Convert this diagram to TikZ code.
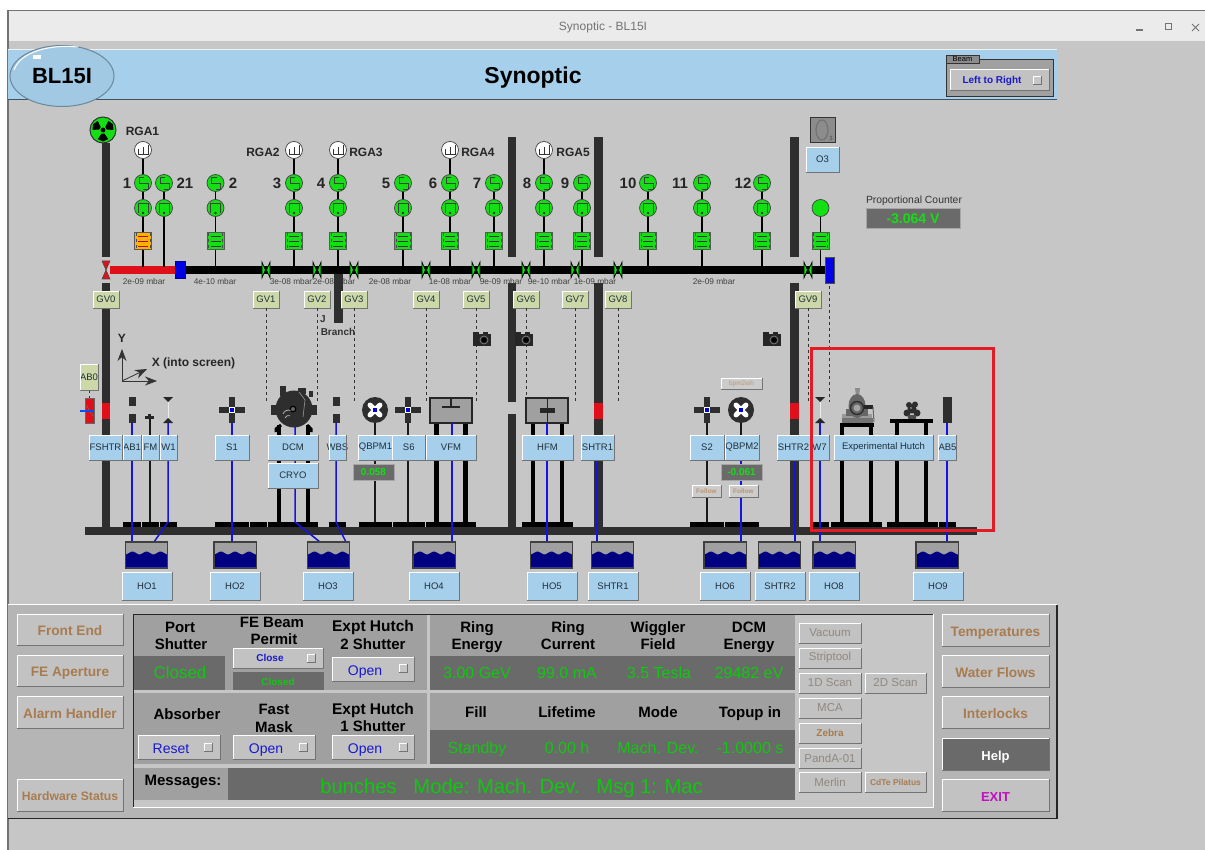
\documentclass[tikz,border=0pt]{standalone}
\usepackage{fontspec}
\setmainfont{Liberation Sans}
\usetikzlibrary{arrows.meta,calc,shapes.geometric}
\definecolor{bg}{HTML}{C6C6C6}
\definecolor{hdr}{HTML}{A6CFEB}
\definecolor{wall}{HTML}{2E2E2E}
\definecolor{gn}{HTML}{12E012}
\definecolor{gv}{HTML}{CCD8A8}
\definecolor{wl}{HTML}{1414E0}
\definecolor{cell}{HTML}{A0A0A0}
\definecolor{dk}{HTML}{6A6A6A}
\definecolor{val}{HTML}{10C810}
\definecolor{tan}{HTML}{A87C50}
\definecolor{btxt}{HTML}{1818D0}
\definecolor{rd}{HTML}{E0101A}
\definecolor{navy}{HTML}{000080}
\definecolor{org}{HTML}{FFB000}
\definecolor{ink}{HTML}{20303C}
\definecolor{fade}{HTML}{908880}
\definecolor{exitc}{HTML}{C010C0}
\newcommand{\fsz}[1]{\fontsize{#1}{#1}\selectfont}
\newcounter{tn}
\newcommand{\T}[4][]{\stepcounter{tn}\node[tx,#1] (t\arabic{tn}) at (#2,#3) {#4};}
\newcommand{\bevel}[1]{%
 \draw[white,line width=0.8pt] (#1.south west)--(#1.north west)--(#1.north east);
 \draw[black!55,line width=0.8pt] (#1.north east)--(#1.south east)--(#1.south west);}
\newcommand{\blab}[6]{%
 \node[blabel,minimum width={(#4-#2)*1pt},minimum height={(#5-#3)*1pt}] (#1) at ({(#2+#4)/2},{(#3+#5)/2}) {#6};
 \bevel{#1}}
\newcommand{\gvb}[3]{%
 \node[gvbox] (#1) at (#2,299.5) {#3};\bevel{#1}}
\newcommand{\btn}[7]{%
 \node[btnbox,minimum width={(#4-#2)*1pt},minimum height={(#5-#3)*1pt},#6] (#1) at ({(#2+#4)/2},{(#3+#5)/2}) {#7};
 \bevel{#1}}
\newcommand{\ind}[2]{%
 \fill[bg] (#1-4,#2-4) rectangle (#1+4,#2+4);
 \draw[white,line width=0.7pt] (#1-4,#2+4)--(#1-4,#2-4)--(#1+4,#2-4);
 \draw[black!55,line width=0.7pt] (#1+4,#2-4)--(#1+4,#2+4)--(#1-4,#2+4);}
\newcommand{\glyphS}[1]{\draw[gly] (#1+1,177)--(#1-4,177)--(#1-4,183)--(#1+5,183)--(#1+5,189)--(#1,189);}
\newcommand{\glyphP}[1]{\draw[gly] (#1-5,213)--(#1-5,203)--(#1+5,203)--(#1+5,213);\fill[black!80] (#1,213) circle (1.3);}
\newcommand{\glyphB}[1]{\foreach \v in {236,241,246}{\draw[black!80,line width=0.9pt] (#1-5,\v)--(#1+5,\v);}
 \draw[black!70,dashed,line width=0.6pt] (#1-7,233)--(#1-7,249) (#1+7,233)--(#1+7,249);}
\newcommand{\gstack}[3]{%
 \node[gc] (p#1) at (#2,183) {};\node[gc] (q#1) at (#2,208) {};\node[gb,fill=#3] (r#1) at (#2,241) {};
 \coordinate (b#1) at (#2,267);
 \draw[conn] (p#1)--(q#1);\draw[conn] (q#1)--(r#1);\draw[conn] (r#1)--(b#1);
 \glyphS{#2}\glyphP{#2}\glyphB{#2}}
\newcommand{\rga}[2]{%
 \node[rg] (g#1) at (#2,150) {};\draw[conn] (g#1)--(p#1);
 \draw[black!80,line width=0.7pt] (#2-5,149)--(#2-5,154)--(#2+5,154)--(#2+5,145) (#2,147)--(#2,154);}
\newcommand{\valve}[2]{%
 \coordinate (v#1) at (#2,270);
 \draw[black,fill=gn,line width=0.6pt] (#2-4,262)--(#2-0.6,270)--(#2-4,278)--cycle;
 \draw[black,fill=gn,line width=0.6pt] (#2+4,262)--(#2+0.6,270)--(#2+4,278)--cycle;}
\newcommand{\cam}[2]{%
 \fill[black!85] (#1-9,#2-5) rectangle (#1+9,#2+7);
 \fill[black!85] (#1-9,#2-7) rectangle (#1-3,#2-4);
 \fill[black!85] (#1+1,#2-7) rectangle (#1+6,#2-4);
 \draw[black!50,line width=0.7pt] (#1+2,#2+1) circle (4);
 \fill[black] (#1+2,#2+1) circle (2.6);}
\newcommand{\crossicon}[2]{%
 \fill[black!82] (#1-3.4,#2-13) rectangle (#1+3.4,#2+13);
 \fill[black!82] (#1-13,#2-3.2) rectangle (#1+13,#2+3.2);
 \fill[white] (#1-2.6,#2-2.6) rectangle (#1+2.6,#2+2.6);
 \fill[blue!85!black] (#1-1.7,#2-1.7) rectangle (#1+1.7,#2+1.7);}
\newcommand{\discicon}[2]{%
 \fill[black!82] (#1,#2) circle (13);
 \foreach \a in {45,135,225,315}{\draw[white,line width=5pt,line cap=round] (#1,#2)--++(\a:7);}
 \fill[blue!85!black] (#1-1.7,#2-1.7) rectangle (#1+1.7,#2+1.7);}
\newcommand{\widfil}[1]{%
 \fill[black!85] (#1-5,397)--(#1+5,397)--(#1,402)--cycle;
 \draw[black!8,line width=0.7pt] (#1,402)--(#1,419);
 \fill[black!85] (#1-5,423)--(#1+5,423)--(#1,418)--cycle;}
\newcommand{\slitpair}[1]{%
 \fill[black!82] (#1-3.5,397) rectangle (#1+3.5,406);
 \fill[black!82] (#1-3.5,414) rectangle (#1+3.5,423);}
\newcommand{\tank}[5]{%
 \node[tk] (#1) at (#2+21,555) {};
 \fill[navy] plot[domain=0:42,samples=43] ({#2+\x},{553+1.4*cos(\x*360/14)}) -- (#2+42,567.5) -- (#2,567.5) -- cycle;
 \draw[black!75,line width=1.4pt] (#1.north west) rectangle (#1.south east);
 \blab{#4}{#3}{572}{#3+50}{600}{#5}}
\tikzset{
 tx/.style={inner sep=0pt,outer sep=0pt,align=center},
 blabel/.style={fill=hdr,inner sep=0pt,outer sep=0pt,font=\fsz{9.5},text=ink},
 gvbox/.style={fill=gv,inner sep=0pt,outer sep=0pt,minimum width=26pt,minimum height=17pt,font=\fsz{9.5},text=ink},
 btnbox/.style={fill=black!24,inner sep=0pt,outer sep=0pt},
 gc/.style={circle,fill=gn,draw=black!75,line width=0.7pt,minimum size=17pt,inner sep=0pt},
 rg/.style={circle,fill=white,draw=black!75,line width=0.7pt,minimum size=17pt,inner sep=0pt},
 gb/.style={rectangle,draw=black!65,line width=0.8pt,minimum size=17pt,inner sep=0pt},
 tk/.style={rectangle,fill=cell,minimum width=42pt,minimum height=26pt,inner sep=0pt},
 conn/.style={black,line width=1.3pt},
 gly/.style={black!75,line width=0.7pt},
 wire/.style={wl,line width=1.5pt},
 dsh/.style={black!80,line width=0.7pt,dash pattern=on 3pt off 3pt},
 leg/.style={black,line width=4.4pt},
 thinleg/.style={black!90,line width=1.5pt},
 big/.style={font=\fsz{15}\bfseries,text=black,text height=11pt,text depth=0pt},
 gnum/.style={font=\fsz{15}\bfseries,text=black!85},
 rgat/.style={font=\fsz{12}\bfseries,text=black!85},
 pr/.style={font=\fsz{8.3},text=black!75},
 value/.style={font=\fsz{16},text=val,text height=11.5pt,text depth=0pt},
 tanb/.style={font=\fsz{13.7}\bfseries,text=tan,text height=12.5pt,text depth=0pt},
 smallb/.style={font=\fsz{11.5},text=fade},
 openb/.style={font=\fsz{14},text=btxt,text height=12pt,text depth=0pt},
}
\begin{document}
\begin{tikzpicture}[x=1pt,y=-1pt]
\useasboundingbox (0,0) rectangle (1205,850);
\fill[white] (0,0) rectangle (1205,850);
% window
\fill[bg] (8,11) rectangle (1205,850);
\fill[black!8] (8,11) rectangle (1205,41);
\draw[black!55,line width=1.2pt] (8,850)--(8,10.5)--(1205,10.5);
\T{603}{27}{\fsz{12}\color{black!55}Synoptic - BL15I}
\draw[black!55,line width=1.2pt] (1136,30)--(1143,30);
\draw[black!55,line width=1pt] (1165,24) rectangle (1171,30);
\draw[black!55,line width=1pt] (1192,24)--(1199,31) (1199,24)--(1192,31);
% header
\fill[hdr] (8,50) rectangle (1057,99);
\draw[black!6,line width=1pt] (8,50)--(1057,50);
\draw[black!60!hdr,line width=1.4pt] (8,99.5)--(1057,99.5);
\node[ellipse,fill=hdr!97!black,draw=black!35!hdr,line width=1pt,minimum width=104pt,minimum height=61pt,inner sep=0pt,font=\fsz{22}\bfseries,text height=16pt,text depth=0pt] (bl) at (62,76) {BL15I};
\draw[white,line width=1pt] (14,70) .. controls (20,52) and (50,44) .. (78,47);
\fill[white] (33,55) rectangle (41,59);
\T[font=\fsz{23}\bfseries]{533}{78}{Synoptic}
% beam box
\fill[cell] (946,59) rectangle (1053,96);
\draw[black!80,line width=0.8pt] (946,59) rectangle (1053,96);
\node[fill=black!45,draw=black!80,line width=0.7pt,minimum width=33pt,minimum height=8pt,inner sep=0pt,font=\fsz{7.5}] (beamtab) at (962.5,59) {Beam};
\btn{lr}{950}{69}{1049}{90}{font=\fsz{10}\bfseries,text=btxt,text depth=0pt}{\hspace*{-7.5pt}Left to Right\hspace*{7.5pt}}
\ind{1037}{80}
% beam line
\fill[black] (185,266) rectangle (826,274);
\fill[rd] (110,266) rectangle (176,274);
\fill[blue!90!black] (175.5,261) rectangle (185,278);
\draw[blue!60!black,line width=0.4pt] (175.5,261) rectangle (185,278);
\coordinate (v0) at (106,270);
\draw[black!70,fill=rd,line width=0.6pt] (102,261)--(110,261)--(106,270)--cycle;
\draw[black!70,fill=rd,line width=0.6pt] (102,279)--(110,279)--(106,270)--cycle;
\fill[blue!90!black] (825,257) rectangle (834,283);
\draw[black!70,line width=0.5pt] (825,257) rectangle (834,283);
% walls
\fill[wall] (102,143) rectangle (110,257);
\fill[wall] (102,283) rectangle (110,530);
\fill[rd] (102,403) rectangle (110,419);
\fill[wall] (507.5,137) rectangle (516,257);
\fill[wall] (507.5,283) rectangle (516,402);
\fill[wall] (507.5,414) rectangle (516,530);
\fill[wall] (594,137) rectangle (603,257);
\fill[wall] (594,283) rectangle (603,530);
\fill[rd] (594,403) rectangle (603,419);
\fill[wall] (790,137) rectangle (799,257);
\fill[wall] (790,283) rectangle (799,530);
\fill[rd] (790,403) rectangle (799,419);
\fill[wall] (334,274) rectangle (342.5,323);
% radiation symbol
\node[circle,fill=gn,draw=black!80,line width=1pt,minimum size=26pt,inner sep=0pt] (rad) at (103,130) {};
\begin{scope}[shift={(103,130)}]
\foreach \a in {90,210,330}{\fill[black] (\a-30:10.5)--(\a:11.5)--(\a+30:10.5)--(\a+22:3.8)--(\a-22:3.8)--cycle;}
\fill[black] (0,0) circle (2.4);
\end{scope}
% gauge stacks
\gstack{1}{143}{org}\gstack{2}{215.5}{gn}\gstack{3}{294}{gn}\gstack{4}{338}{gn}
\gstack{5}{403}{gn}\gstack{6}{450}{gn}\gstack{7}{494}{gn}\gstack{8}{544}{gn}\gstack{9}{582}{gn}
\gstack{10}{648}{gn}\gstack{11}{702}{gn}\gstack{12}{762}{gn}
\foreach \v in {236,241,246}{\draw[rd!80!black,line width=0.9pt] (138,\v)--(148,\v);}
\node[gc] (p21) at (164,183) {};\node[gc] (q21) at (164,208) {};\coordinate (b21) at (164,267);
\draw[conn] (p21)--(q21);\draw[conn] (q21)--(b21);\glyphS{164}\glyphP{164}
\node[gc] (qe) at (820.5,208) {};\node[gb,fill=gn] (re) at (820.5,241) {};\coordinate (be) at (820.5,267);
\draw[conn] (qe)--(re);\draw[conn] (re)--(be);\glyphB{820.5}
\rga{1}{143}\rga{3}{294}\rga{4}{338}\rga{6}{450}\rga{8}{544}
% gauge labels
\foreach \x/\s in {127/1,185/21,233/2,277/3,321/4,386/5,433/6,477/7,527/8,565/9,628/10,680/11,743/12}{\T[gnum]{\x}{183}{\s}}
\T[rgat]{142.5}{131}{RGA1}\T[rgat]{263}{152}{RGA2}\T[rgat]{366}{152}{RGA3}\T[rgat]{478}{152}{RGA4}\T[rgat]{573}{152}{RGA5}
% pressures
\foreach \x/\s in {144/2e-09,215/4e-10,291/3e-08,334/2e-08,390/2e-08,450/1e-08,501/9e-09,549/9e-10,595/1e-09,714/2e-09}{\T[pr]{\x}{282}{\s\ mbar}}
\fill[wall] (334,278) rectangle (342.5,286);
% dashed lines, then valves and labels
\foreach \n/\x in {1/266,2/317,3/354,4/426,5/476,6/526,7/575,8/618,9/808}{
 \valve{\n}{\x}
 \gvb{gv\n}{\x}{GV\n}
 \coordinate (d\n) at (\x,403);
 \draw[dsh] (gv\n.south)--(d\n);
}
\gvb{gv0}{106}{GV0}
\coordinate (ea) at (829.5,286);\coordinate (eb) at (829.5,402);\draw[dsh] (ea)--(eb);
\T[font=\fsz{10}\bfseries,text=black!80]{323}{319}{J}
\T[font=\fsz{10}\bfseries,text=black!80]{338}{332}{Branch}
% cameras
\cam{482}{339}\cam{524}{339}\cam{772}{339}
% O3
\node[fill=black!45,draw=black!80,line width=1pt,minimum size=25pt,inner sep=0pt] (o3i) at (823,130.5) {};
\draw[black!55,line width=1.2pt] (822,130) ellipse (6 and 10);
\T[font=\fsz{6},text=black!70]{831}{138}{3}
\blab{o3}{806}{147}{839}{172}{O3}
% proportional counter
\T[font=\fsz{10.4},text=black!80]{914}{200.5}{Proportional Counter}
\node[fill=dk,draw=black!35,line width=0.6pt,minimum width=94pt,minimum height=20pt,inner sep=0pt,font=\fsz{14}\bfseries,text=gn] (pc) at (913,218.5) {-3.064 V};
% axes
\coordinate (ax) at (122,381);\coordinate (axy) at (122,349);\coordinate (axx) at (157,381);\coordinate (axz) at (147,369);
\draw[black!80,line width=0.8pt,-{Stealth[length=12pt,width=9pt]}] (ax)--(axy);
\draw[black!80,line width=0.8pt,-{Stealth[length=12pt,width=9pt]}] (ax)--(axx);
\draw[black!80,line width=0.8pt,-{Stealth[length=12pt,width=9pt]}] (ax)--(axz);
\T[font=\fsz{12}\bfseries,text=black!85]{122}{338}{Y}
\T[font=\fsz{12}\bfseries,text=black!85]{193.5}{363}{X (into screen)}
% base
\fill[wall] (85,527) rectangle (977,535);
\foreach \a/\b in {123/141,142/159,160/177,215/249,250/267,268/318,329/346,359/392,392.5/425,426/476,522/573,690/724,725/759,813/829,831/882,887/938,939/956}{
 \fill[black] (\a,522) rectangle (\b,527);}
% legs
\foreach \x in {279,308}{\draw[leg] (\x,425)--(\x,522);}
\foreach \x in {436.5,465.5,533,562}{\draw[leg] (\x,423)--(\x,522);}
\foreach \x in {842,871,897,926}{\draw[black,line width=4pt] (\x,423)--(\x,522);}
\foreach \x in {150,375,408,707,741}{\draw[thinleg] (\x,417)--(\x,522);}
% icons
\slitpair{132}\slitpair{336}
\fill[black!85] (145,416) rectangle (154,419);\fill[black!85] (148,414) rectangle (151,416);
\widfil{168}\widfil{820}
\crossicon{232}{410}\crossicon{408}{410}\crossicon{707}{410}
\discicon{375}{410}\discicon{741}{410}
\fill[black!82] (943,397) rectangle (952,423);
% mirrors
\node[fill=cell,draw=black!85,line width=1.3pt,minimum width=42pt,minimum height=25pt,inner sep=0pt] (vfmi) at (451,410.5) {};
\fill[black!85] (442,406) rectangle (460,408);\fill[black!85] (450,399) rectangle (452,407);
\node[fill=cell,draw=black!85,line width=1.3pt,minimum width=42pt,minimum height=25pt,inner sep=0pt] (hfmi) at (547,410.5) {};
\draw[black!85,line width=0.9pt] (547,398)--(547,423);
\fill[black!85] (540,408) rectangle (555,413);
% DCM
\fill[black!82] (271,405) rectangle (277,415);\fill[black!82] (311,405) rectangle (317,415);
\fill[black!82] (280,386) rectangle (286,396);\fill[black!82] (298,388) rectangle (306,394);\fill[black!82] (309,391) rectangle (313,397);
\fill[black!82] (294,409) circle (18.5);
\draw[black,line width=3pt] (276,432)--(276,429)--(281,425);\draw[black,line width=3pt] (311,432)--(311,429)--(307,425);
\draw[black,line width=1.2pt,fill=black!60] (293,409) circle (2.8);
\draw[black!25,line width=0.7pt] (285,418) arc (200:290:4) (283,414) arc (200:290:6);
\draw[black!45,line width=0.7pt] (303,417)--(305,400)--(299,392);
% experimental hutch apparatus
\fill[black] (840,423) rectangle (874,427);
\fill[black] (890,419) rectangle (933,423);
\fill[black!55] (842,418) rectangle (873,423);
\fill[black!40] (842,414) rectangle (872,418);
\fill[black!60] (846,409) rectangle (868,416);
\fill[black!45] (855,388) -- (860,388) -- (859,396)--(863,400)--(852,400)--(856,396)--cycle;
\fill[black!60] (857,406) ellipse (8.5 and 12);
\draw[black!82,line width=1.4pt] (857,408) circle (6.5);
\fill[black!35] (857,408) circle (3.4);
\fill[black!85] (864,405) rectangle (873,409);
\draw[black!60,line width=1pt] (873,407)--(874,422);
\fill[black!82] (912,409) circle (4.5);\fill[black!82] (907,413) circle (3.5);\fill[black!82] (917,413) circle (3.5);
\fill[black!82] (909,405) circle (3);\fill[black!82] (915,404.5) circle (3);\fill[black!70] (908,415) rectangle (916,419);
\fill[black!45] (911,408) circle (1.2);
% FSHTR red, AB0
\fill[rd] (85,398) rectangle (94,423);\draw[black!60,line width=0.5pt] (85,398) rectangle (94,423);
\draw[black!55,line width=0.5pt] (86,405)--(93,416);
\draw[blue!70!cyan,line width=2pt] (80,411)--(94,411);
\draw[dsh] (89,390)--(89,398);
\node[blabel,fill=gv,minimum width=18pt,minimum height=26pt] (ab0) at (89,377) {AB0};\bevel{ab0}
% water wires
\foreach \n/\x/\t in {a/132/423,b/232/423,c/452/423,d/547/423,e/597/460,f/741/460,g/820/423,h/947/423}{
 \coordinate (wa\n) at (\x,\t);\coordinate (wb\n) at (\x,542);\draw[wire] (wa\n)--(wb\n);}
\coordinate (wi) at (795,460);\coordinate (wj) at (795,541);\draw[wire] (wi)--(wj);
\coordinate (wp) at (168,423);\coordinate (wq) at (168,522);\coordinate (wr) at (154,542);\draw[wire] (wp)--(wq)--(wr);
\coordinate (ws) at (295,427);\coordinate (wt) at (295,522);\coordinate (wu) at (320,542);\draw[wire] (ws)--(wt)--(wu);
\coordinate (wv) at (336,423);\coordinate (ww) at (336,522);\coordinate (wx) at (346,542);\draw[wire] (wv)--(ww)--(wx);
% tanks
\tank{ta}{125.5}{122}{HOa}{HO1}
\tank{tb}{214}{210}{HOb}{HO2}
\tank{tc}{307.5}{303}{HOc}{HO3}
\tank{td}{413}{409}{HOd}{HO4}
\tank{te}{530.5}{527}{HOe}{HO5}
\tank{tf}{591.5}{588}{HOf}{SHTR1}
\tank{tg}{704}{700}{HOg}{HO6}
\tank{th}{758.5}{755}{HOh}{SHTR2}
\tank{ti}{813}{809}{HOi}{HO8}
\tank{tj}{916}{913}{HOj}{HO9}
% device labels
\blab{fshtr}{89}{435}{122}{460}{FSHTR}
\blab{ab1}{123}{435}{141}{460}{AB1}
\blab{fm}{142}{435}{159}{460}{FM}
\blab{w1}{160}{435}{177}{460}{W1}
\blab{s1}{215}{435}{249}{460}{S1}
\blab{dcm}{268}{435}{318}{460}{DCM}
\blab{cryo}{268}{463}{318}{488}{CRYO}
\blab{wbs}{329}{435}{346}{460}{\makebox[0pt]{WBS}}
\blab{qbpm1}{359}{435}{392}{460}{QBPM1}
\blab{s6}{392.5}{435}{425}{460}{S6}
\blab{vfm}{426}{435}{476}{460}{VFM}
\blab{hfm}{522}{435}{573}{460}{HFM}
\blab{shtr1}{581}{435}{614}{460}{SHTR1}
\blab{s2}{690}{435}{724}{460}{S2}
\blab{qbpm2}{725}{435}{759}{460}{QBPM2}
\blab{shtr2}{777}{435}{810}{460}{SHTR2}
\blab{w7}{810}{435}{829}{460}{W7}
\blab{hutch}{834}{435}{933}{460}{Experimental Hutch}
\blab{ab5}{939}{435}{956}{460}{AB5}
% readouts
\node[fill=dk,draw=black!35,line width=0.5pt,minimum width=41pt,minimum height=16pt,inner sep=0pt,font=\fsz{10}\bfseries,text=gn] (q1v) at (373.5,472) {0.058};
\node[fill=dk,draw=black!35,line width=0.5pt,minimum width=41pt,minimum height=16pt,inner sep=0pt,font=\fsz{10}\bfseries,text=gn] (q2v) at (741.5,472) {-0.061};
\btn{bp}{721}{378}{762}{389}{fill=black!20,font=\fsz{6.5},text=tan!80}{bpm2eih}
\btn{fl1}{692}{485}{721}{497}{fill=black!20,font=\fsz{6.5}\bfseries,text=tan!80}{Follow}
\btn{fl2}{729}{485}{758}{497}{fill=black!20,font=\fsz{6.5}\bfseries,text=tan!80}{Follow}
% red frame
\draw[rd!95!white,line width=3pt] (811,348.5) rectangle (993.5,530);
% control panel
\fill[black!29] (8,605) rectangle (1057,818);
\draw[white,line width=1pt] (8,604.5)--(1057,604.5);
\draw[black!85,line width=1.4pt] (8,818.5)--(1057,818.5)--(1057,604.5);
\fill[bg] (133,614) rectangle (933,807);
\draw[white,line width=1pt] (133,807)--(933,807)--(933,614);
\fill[cell] (133,614) rectangle (427,690);
\fill[cell] (133,693) rectangle (427,764);
\fill[cell] (430,614) rectangle (795,690);
\fill[cell] (430,693) rectangle (795,764);
\fill[dk] (430,656) rectangle (795,690);
\fill[dk] (430,730) rectangle (795,764);
\fill[cell] (133,768) rectangle (228,800);
\fill[dk] (228,768) rectangle (795,800);
\fill[dk] (133,656) rectangle (225,690);
\fill[dk] (233,672) rectangle (324,690);
\draw[black!85,line width=1pt] (133,807)--(133,614)--(933,614);
% side buttons
\btn{fe}{17}{614}{123}{645}{tanb}{Front End}
\btn{fea}{17}{655}{123}{686}{tanb}{FE Aperture}
\btn{alm}{17}{696}{123}{728}{tanb}{Alarm Handler}
\btn{hw}{17}{779}{123}{811}{font=\fsz{12.2}\bfseries,text=tan,text height=11pt,text depth=0pt}{Hardware Status}
\btn{temp}{942}{614}{1049}{646}{tanb}{Temperatures}
\btn{wf}{942}{655}{1049}{687}{tanb}{Water Flows}
\btn{il}{942}{696}{1049}{728}{tanb}{Interlocks}
\btn{hlp}{942}{738}{1049}{770}{fill=dk,font=\fsz{13}\bfseries,text=white,text height=12pt,text depth=0pt}{Help}
\btn{ex}{942}{779}{1049}{811}{font=\fsz{13}\bfseries,text=exitc,text height=12pt,text depth=0pt}{EXIT}
% small buttons
\btn{vac}{799}{623}{861}{643}{smallb}{Vacuum}
\btn{stp}{799}{648}{861}{668}{smallb}{Striptool}
\btn{d1}{799}{673}{861}{693}{smallb}{1D Scan}
\btn{d2}{865}{673}{926}{693}{smallb}{2D Scan}
\btn{mca}{799}{698}{861}{718}{smallb}{MCA}
\btn{zeb}{799}{723}{861}{743}{font=\fsz{10}\bfseries,text=tan}{Zebra}
\btn{pnd}{799}{748}{861}{768}{smallb}{PandA-01}
\btn{mrl}{799}{772}{861}{792}{smallb}{Merlin}
\btn{cdte}{865}{772}{926}{792}{font=\fsz{8.5}\bfseries,text=tan}{CdTe Pilatus}
% status texts
\T[big]{180}{627}{Port}\T[big]{181}{644}{Shutter}
\T[big]{272}{622}{FE Beam}\T[big]{274}{639}{Permit}
\T[big,font=\fsz{15.5}\bfseries]{373}{626}{Expt Hutch}\T[big]{373}{644}{2 Shutter}
\T[big]{187}{714}{Absorber}
\T[big]{274}{709}{Fast}\T[big]{274}{727}{Mask}
\T[big,font=\fsz{15.5}\bfseries]{373}{709}{Expt Hutch}\T[big]{373}{726}{1 Shutter}
\T[big]{183}{780}{Messages:}
\T[value,font=\fsz{17}]{180}{673}{Closed}
\T[font=\fsz{10}\bfseries,text=val]{278}{682}{Closed}
\btn{bclose}{233}{648}{323}{668}{font=\fsz{10}\bfseries,text=btxt}{\hspace*{-8pt}Close\hspace*{8pt}}\ind{311}{658}
\btn{b2s}{332}{657}{414}{681}{openb}{\hspace*{-8pt}Open\hspace*{8pt}}\ind{403}{668}
\btn{babs}{138}{735}{220}{759}{openb}{\hspace*{-8pt}Reset\hspace*{8pt}}\ind{208}{747}
\btn{bfm}{233}{735}{315}{759}{openb}{\hspace*{-8pt}Open\hspace*{8pt}}\ind{303}{747}
\btn{b1s}{332}{735}{414}{759}{openb}{\hspace*{-8pt}Open\hspace*{8pt}}\ind{403}{747}
\T[big]{477}{627}{Ring}\T[big]{477}{644}{Energy}
\T[big]{568}{627}{Ring}\T[big]{568}{644}{Current}
\T[big]{658}{627}{Wiggler}\T[big]{658}{644}{Field}
\T[big]{749}{627}{DCM}\T[big]{749}{644}{Energy}
\T[big]{476}{712}{Fill}\T[big]{567}{712}{Lifetime}\T[big]{658}{712}{Mode}\T[big]{750}{712}{Topup in}
\T[value]{477}{673}{3.00 GeV}\T[value]{567}{673}{99.0 mA}\T[value]{659}{673}{3.5 Tesla}\T[value]{749}{673}{29482 eV}
\T[value]{477}{748}{Standby}\T[value]{567}{748}{0.00 h}\T[value]{658}{748}{Mach. Dev.}\T[value]{750}{748}{-1.0000 s}
\T[font=\fsz{20.2},text=val,text height=15pt,text depth=0pt]{511.5}{786}{bunches\ \ \ Mode: Mach. Dev.\ \ \ Msg 1: Mac}
\end{tikzpicture}
\end{document}
